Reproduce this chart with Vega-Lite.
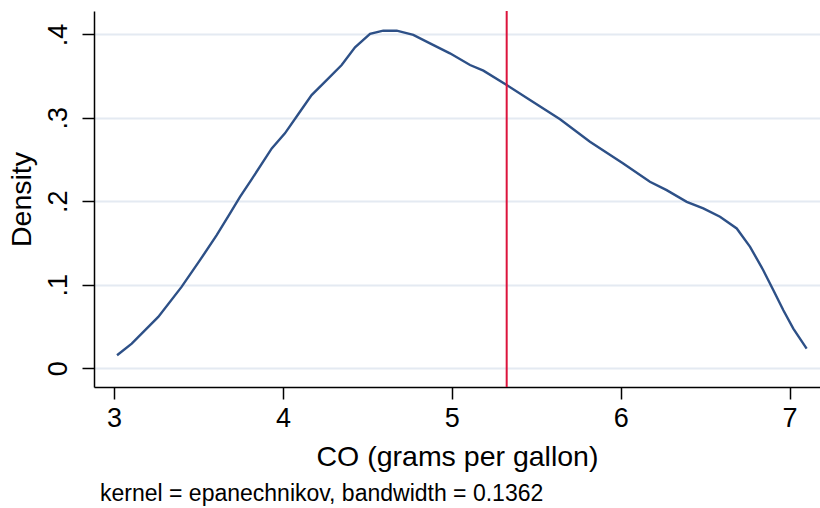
{
  "$schema": "https://vega.github.io/schema/vega-lite/v6.json",
  "autosize": "none",
  "width": 726,
  "height": 376,
  "padding": {"left": 94, "top": 11, "right": 0, "bottom": 121},
  "background": "white",
  "config": {
    "view": {"stroke": null},
    "font": "Liberation Sans",
    "axis": {"labelFont": "Liberation Sans", "titleFont": "Liberation Sans", "labelColor": "black", "titleColor": "black", "titleFontWeight": "normal", "domainColor": "black", "tickColor": "black", "domainWidth": 1.5, "tickWidth": 1.5, "tickSize": 12}
  },
  "title": {"text": "kernel = epanechnikov, bandwidth = 0.1362", "orient": "bottom", "anchor": "start", "frame": "group", "font": "Liberation Sans", "fontSize": 23, "fontWeight": "normal", "color": "black", "dx": 6, "offset": 12},
  "data": {"values": [
    {"x": 3.018, "y": 0.0156}, {"x": 3.105, "y": 0.0296}, {"x": 3.262, "y": 0.0615}, {"x": 3.40, "y": 0.0975},
    {"x": 3.509, "y": 0.1295}, {"x": 3.608, "y": 0.1595}, {"x": 3.687, "y": 0.1855}, {"x": 3.746, "y": 0.2054},
    {"x": 3.815, "y": 0.2264}, {"x": 3.934, "y": 0.2634}, {"x": 4.012, "y": 0.2814}, {"x": 4.101, "y": 0.3073},
    {"x": 4.170, "y": 0.3273}, {"x": 4.259, "y": 0.3453}, {"x": 4.348, "y": 0.3633}, {"x": 4.427, "y": 0.3845},
    {"x": 4.516, "y": 0.4005}, {"x": 4.594, "y": 0.4044}, {"x": 4.674, "y": 0.4044}, {"x": 4.772, "y": 0.3993},
    {"x": 4.871, "y": 0.3893}, {"x": 4.989, "y": 0.3773}, {"x": 5.108, "y": 0.3633}, {"x": 5.187, "y": 0.3565},
    {"x": 5.325, "y": 0.3393}, {"x": 5.463, "y": 0.3213}, {"x": 5.641, "y": 0.2982}, {"x": 5.818, "y": 0.2714},
    {"x": 6.015, "y": 0.2454}, {"x": 6.173, "y": 0.2234}, {"x": 6.272, "y": 0.2134}, {"x": 6.391, "y": 0.1994},
    {"x": 6.489, "y": 0.1915}, {"x": 6.588, "y": 0.1815}, {"x": 6.687, "y": 0.1675}, {"x": 6.766, "y": 0.1455},
    {"x": 6.844, "y": 0.1175}, {"x": 6.904, "y": 0.0935}, {"x": 6.963, "y": 0.0695}, {"x": 7.022, "y": 0.0476},
    {"x": 7.101, "y": 0.0236}
  ]},
  "layer": [
    {
      "mark": {"type": "line", "color": "#2d5087", "strokeWidth": 2.4, "clip": true},
      "encoding": {
        "x": {"field": "x", "type": "quantitative", "scale": {"domain": [2.8816, 7.18], "nice": false, "zero": false},
          "axis": {"values": [3, 4, 5, 6, 7], "format": "d", "title": "CO (grams per gallon)", "titleFontSize": 28.5, "labelFontSize": 27, "labelPadding": 6, "titlePadding": 11, "grid": false, "labelFlush": false}},
        "y": {"field": "y", "type": "quantitative", "scale": {"domain": [-0.0224, 0.428], "nice": false, "zero": false},
          "axis": {"values": [0, 0.1, 0.2, 0.3, 0.4], "title": "Density", "titleFontSize": 28.5, "labelFontSize": 27, "labelAngle": 270, "labelAlign": "center", "labelBaseline": "bottom", "labelPadding": 10, "titlePadding": 8, "grid": true, "gridColor": "#e4eaf2", "gridWidth": 2, "labelFlush": false,
            "labelExpr": "datum.value == 0 ? '0' : replace(format(datum.value, '.1f'), '0.', '.')"}}
      }
    },
    {
      "data": {"values": [{"m": 5.325}]},
      "mark": {"type": "rule", "color": "#dc143c", "strokeWidth": 2},
      "encoding": {"x": {"field": "m", "type": "quantitative"}}
    }
  ]
}
